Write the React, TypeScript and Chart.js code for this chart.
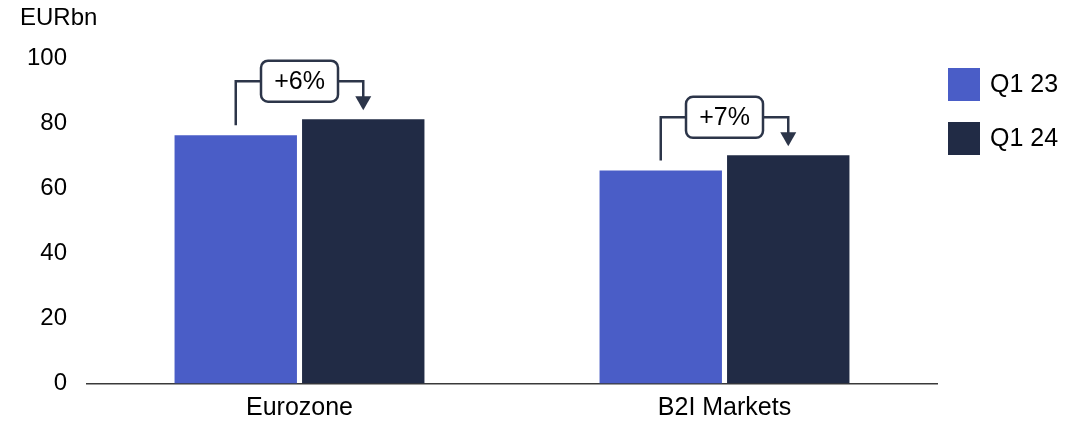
import React, { useEffect, useRef } from "react";
import { Chart, registerables } from "chart.js";

Chart.register(...registerables);

const categories = ["Eurozone", "B2I Markets"];
const seriesNames = ["Q1 23", "Q1 24"];
const q123Values = [76.3, 65.4];
const q124Values = [81.2, 70.1];
const growthLabels = ["+6%", "+7%"];
const yTicks = [0, 20, 40, 60, 80, 100];
const unitLabel = "EURbn";

const COLOR_Q123 = "#4A5DC7";
const COLOR_Q124 = "#212B45";
const LINE_COLOR = "#2C3549";
const FONT = "'Liberation Sans', Arial, sans-serif";

const overlayPlugin = {
  id: "overlay",
  afterDatasetsDraw(chart: any) {
    const ctx = chart.ctx as CanvasRenderingContext2D;
    const m0 = chart.getDatasetMeta(0).data;
    const m1 = chart.getDatasetMeta(1).data;
    ctx.save();

    // unit label above the value axis
    ctx.fillStyle = "#000";
    ctx.font = `24px ${FONT}`;
    ctx.textAlign = "left";
    ctx.textBaseline = "middle";
    ctx.fillText(unitLabel, 20, 18);

    // growth brackets between the two bars of each category
    categories.forEach((_, i) => {
      const b0 = m0[i];
      const b1 = m1[i];
      if (!b0 || !b1) return;
      const x0 = b0.x;
      const x1 = b1.x;
      const top0 = b0.y;
      const top1 = b1.y;
      const hy = Math.min(top0, top1) - 38;
      const cx = (x0 + x1) / 2;
      const bw = 77;
      const bh = 41;
      const bl = cx - bw / 2;
      const br = cx + bw / 2;
      const arrowTip = top1 - 9;
      const arrowBase = arrowTip - 14;

      ctx.strokeStyle = LINE_COLOR;
      ctx.lineWidth = 2.5;
      ctx.lineJoin = "miter";
      ctx.beginPath();
      ctx.moveTo(x0, top0 - 10);
      ctx.lineTo(x0, hy);
      ctx.lineTo(bl, hy);
      ctx.stroke();

      ctx.beginPath();
      ctx.moveTo(br, hy);
      ctx.lineTo(x1, hy);
      ctx.lineTo(x1, arrowBase + 1);
      ctx.stroke();

      ctx.fillStyle = LINE_COLOR;
      ctx.beginPath();
      ctx.moveTo(x1 - 8, arrowBase);
      ctx.lineTo(x1 + 8, arrowBase);
      ctx.lineTo(x1, arrowTip);
      ctx.closePath();
      ctx.fill();

      ctx.fillStyle = "#fff";
      ctx.lineWidth = 2.5;
      ctx.beginPath();
      (ctx as any).roundRect(bl, hy - bh / 2, bw, bh, 7);
      ctx.fill();
      ctx.stroke();

      ctx.fillStyle = "#000";
      ctx.font = `25px ${FONT}`;
      ctx.textAlign = "center";
      ctx.textBaseline = "middle";
      ctx.fillText(growthLabels[i], cx, hy + 1);
    });

    // legend
    const colors = [COLOR_Q123, COLOR_Q124];
    seriesNames.forEach((name, i) => {
      const y = 68 + i * 54;
      ctx.fillStyle = colors[i];
      ctx.fillRect(948, y, 32, 33);
      ctx.fillStyle = "#000";
      ctx.font = `25px ${FONT}`;
      ctx.textAlign = "left";
      ctx.textBaseline = "middle";
      ctx.fillText(name, 990, y + 17);
    });

    ctx.restore();
  },
};

export default function App() {
  const canvasRef = useRef<HTMLCanvasElement | null>(null);

  useEffect(() => {
    if (!canvasRef.current) return;
    const chart = new Chart(canvasRef.current, {
      type: "bar",
      data: {
        labels: categories,
        datasets: [
          {
            label: seriesNames[0],
            data: q123Values,
            backgroundColor: COLOR_Q123,
            categoryPercentage: 0.6,
            barPercentage: 0.96,
          },
          {
            label: seriesNames[1],
            data: q124Values,
            backgroundColor: COLOR_Q124,
            categoryPercentage: 0.6,
            barPercentage: 0.96,
          },
        ],
      },
      options: {
        responsive: false,
        animation: false,
        layout: { padding: { left: 27, right: 146, top: 58, bottom: 0 } },
        plugins: {
          legend: { display: false },
          tooltip: { enabled: false },
          title: { display: false },
        },
        scales: {
          x: {
            grid: { display: false, drawTicks: false },
            border: { display: true, color: "#3a3a3a", width: 1.5 },
            afterFit: (scale: any) => {
              scale.height = 39.5;
            },
            ticks: {
              color: "#000",
              font: { family: FONT, size: 25 },
              padding: 10,
            },
          },
          y: {
            min: 0,
            max: 100,
            grid: { display: false, drawTicks: false },
            border: { display: false },
            afterFit: (scale: any) => {
              scale.width = 60;
            },
            afterBuildTicks: (axis: any) => {
              axis.ticks = yTicks.map((v) => ({ value: v }));
            },
            ticks: {
              color: "#000",
              font: { family: FONT, size: 24 },
              padding: 20,
            },
          },
        },
      },
      plugins: [overlayPlugin],
    });
    return () => chart.destroy();
  }, []);

  return (
    <div style={{ position: "fixed", left: 0, top: 0, width: 1083, height: 423, background: "#fff" }}>
      <canvas ref={canvasRef} width={1083} height={423} />
    </div>
  );
}
